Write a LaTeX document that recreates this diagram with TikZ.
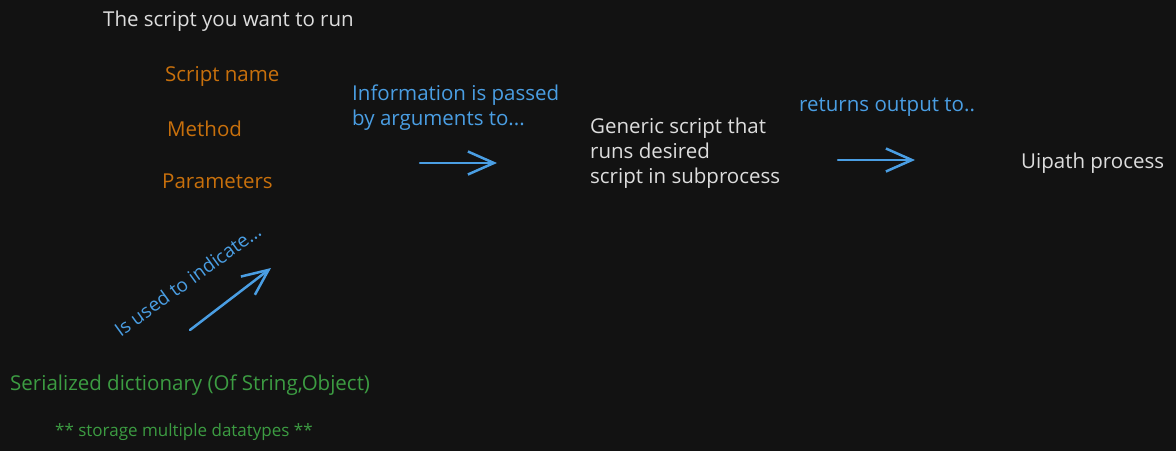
\documentclass[tikz,border=0pt]{standalone}
\usepackage{fontspec}
\setmainfont{Open Sans}
\usetikzlibrary{arrows.meta, positioning}
\definecolor{Board}{HTML}{121212}
\definecolor{Chalk}{HTML}{DDDDDD}
\definecolor{Rust}{HTML}{C8700C}
\definecolor{Sky}{HTML}{4A9EE3}
\definecolor{Leaf}{HTML}{3C9C42}

\begin{document}
\begin{tikzpicture}[x=1pt, y=-1pt,
    txt/.style={anchor=west, inner sep=0pt, align=left, font=\fontsize{20.5}{25}\selectfont},
    sketcharrow/.style={-{Straight Barb[length=26pt, width=23pt, line width=2.5pt]}, line width=2.5pt, Sky, line cap=round}]
    \fill[Board] (0,0) rectangle (1176,451);
    \useasboundingbox (0,0) rectangle (1176,451);

    \node (title) [txt, Chalk] at (103, 21) {The script you want to run};
    \node (name) [txt, Rust] at (165, 76) {Script name};
    \node (method) [txt, Rust] at (167, 129) {Method};
    \node (params) [txt, Rust] at (162, 181) {Parameters};

    \node (info) [txt, Sky] at (352, 107.5) {Information is passed\\by arguments to...};
    \node (generic) [txt, Chalk] at (590, 153) {Generic script that\\runs desired\\script in subprocess};
    \node (returns) [txt, Sky] at (799, 107) {returns output to..};
    \node (uipath) [txt, Chalk] at (1021, 163) {Uipath process};

    \node (indicate) [txt, Sky, rotate=36, anchor=south west, font=\fontsize{19}{22}\selectfont] at (121, 338) {Is used to indicate...};
    \node (dict) [txt, Leaf] at (10, 385) {Serialized dictionary (Of String,Object)};
    \node (storage) [txt, Leaf, font=\fontsize{17}{20}\selectfont] at (55, 432) {** storage multiple datatypes **};

    % free arrows
    \coordinate (a1s) at (420, 163);
    \coordinate (a1e) at (497, 163);
    \coordinate (a2s) at (838, 160);
    \coordinate (a2e) at (915, 160);
    \coordinate (a3s) at (190, 330);
    \coordinate (a3e) at (271, 268);
    \draw[sketcharrow] (a1s) -- (a1e);
    \draw[sketcharrow] (a2s) -- (a2e);
    \draw[sketcharrow] (a3s) -- (a3e);
\end{tikzpicture}
\end{document}
